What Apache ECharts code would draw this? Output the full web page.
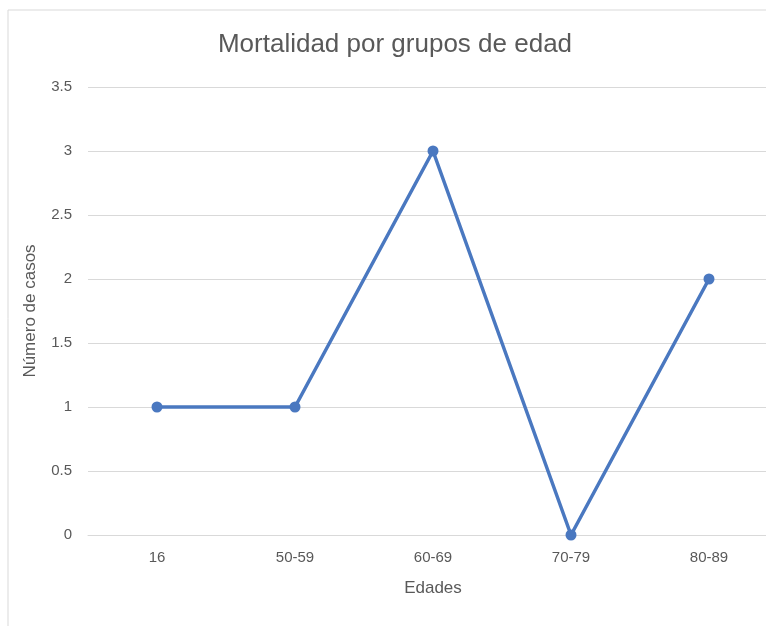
<!DOCTYPE html>
<html><head><meta charset="utf-8">
<script src="https://cdn.jsdelivr.net/npm/echarts@6/dist/echarts.min.js"></script>
<style>html,body{margin:0;padding:0;background:#fff;overflow:hidden;}#c{width:790px;height:626px;}</style>
</head><body><div id="c"></div>
<script>
const categories = ['16', '50-59', '60-69', '70-79', '80-89'];
const casos = [1, 1, 3, 0, 2];
const titleText = 'Mortalidad por grupos de edad';
const xName = 'Edades';
const yName = 'Número de casos';

const chart = echarts.init(document.getElementById('c'));
const txt = '#595959';
const font = 'Liberation Sans';
chart.setOption({
  backgroundColor: '#fff',
  animation: false,
  graphic: [{
    type: 'rect', shape: {x: 8, y: 10, width: 900, height: 800},
    style: {fill: 'none', stroke: '#d9d9d9', lineWidth: 1}, z: -1
  }],
  title: {
    text: titleText, left: 'center', top: 27,
    textStyle: {color: txt, fontFamily: font, fontSize: 26, fontWeight: 'normal'}
  },
  grid: {left: 88, top: 87, right: 12, bottom: 91},
  xAxis: {
    type: 'category', data: categories, boundaryGap: true,
    name: xName, nameLocation: 'middle', nameGap: 45,
    nameTextStyle: {color: txt, fontFamily: font, fontSize: 17},
    axisLine: {show: true, lineStyle: {color: '#d9d9d9', width: 1}},
    axisTick: {show: false},
    axisLabel: {color: txt, fontFamily: font, fontSize: 15, margin: 15}
  },
  yAxis: {
    type: 'value', min: 0, max: 3.5, interval: 0.5,
    name: yName, nameLocation: 'middle', nameGap: 49,
    nameTextStyle: {color: txt, fontFamily: font, fontSize: 17},
    axisLine: {show: false}, axisTick: {show: false},
    splitLine: {lineStyle: {color: '#d9d9d9', width: 1}},
    axisLabel: {color: txt, fontFamily: font, fontSize: 15, margin: 16}
  },
  series: [{
    type: 'line', data: casos,
    symbol: 'circle', symbolSize: 11,
    lineStyle: {color: '#4a78c0', width: 3.5},
    itemStyle: {color: '#4a78c0'}
  }]
});
</script></body></html>
